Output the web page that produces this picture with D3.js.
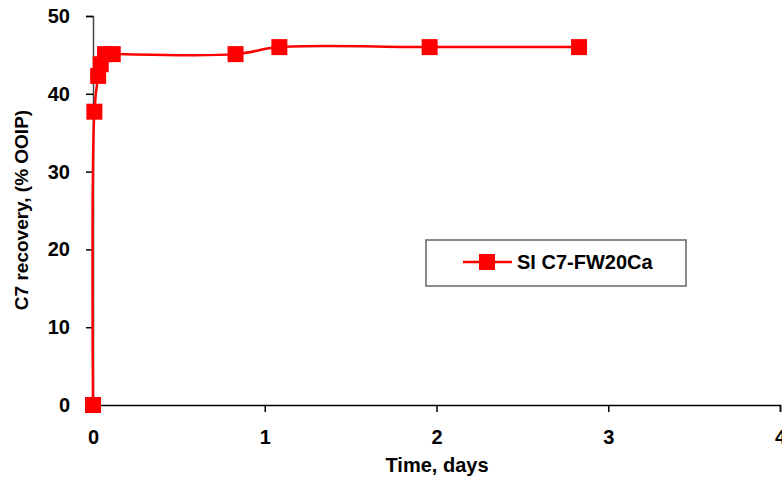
<!DOCTYPE html>
<html>
<head>
<meta charset="utf-8">
<script src="https://cdn.jsdelivr.net/npm/d3@7"></script>
<style>
  body { margin: 0; background: #fff; }
  svg text { font-family: "Liberation Sans", Arial, sans-serif; font-weight: bold; fill: #000; }
</style>
</head>
<body>
<svg id="chart" width="782" height="481"></svg>
<script>
  // values
  var timeDays = [0, 0.008, 0.03, 0.045, 0.07, 0.115, 0.83, 1.085, 1.96, 2.83];
  var recovery = [0, 37.7, 42.3, 43.8, 45.1, 45.1, 45.1, 46.0, 46.0, 46.0];
  var xTicks = [0, 1, 2, 3, 4];
  var yTicks = [0, 10, 20, 30, 40, 50];
  var seriesName = 'SI C7-FW20Ca';

  var svg = d3.select('#chart');
  var x = d3.scaleLinear().domain([0, 4]).range([93, 780]);
  var y = d3.scaleLinear().domain([0, 50]).range([405, 16]);

  var data = timeDays.map(function(t, i) { return { t: t, v: recovery[i] }; });

  // axes
  var xAxis = svg.append('g').attr('transform', 'translate(0,405)')
    .call(d3.axisBottom(x).tickValues(xTicks).tickSize(7).tickPadding(18).tickFormat(d3.format('d')));
  var yAxis = svg.append('g').attr('transform', 'translate(93,0)')
    .call(d3.axisLeft(y).tickValues(yTicks).tickSize(7).tickPadding(16).tickFormat(d3.format('d')));
  [xAxis, yAxis].forEach(function(a) {
    a.select('.domain').attr('stroke', '#000').attr('stroke-width', 1.5);
    a.selectAll('.tick line').attr('stroke', '#000').attr('stroke-width', 1.5);
    a.selectAll('.tick text').style('font-size', '20px').style('font-family', '"Liberation Sans", Arial, sans-serif').attr('fill', '#000');
  });
  yAxis.select('.domain').attr('stroke', '#444');

  // axis titles
  svg.append('text').attr('x', 437).attr('y', 472).attr('text-anchor', 'middle')
    .style('font-size', '20px').text('Time, days');
  svg.append('text').attr('transform', 'translate(28,210) rotate(-90)').attr('text-anchor', 'middle')
    .style('font-size', '19px').text('C7 recovery, (% OOIP)');

  // series
  var line = d3.line().x(function(d) { return x(d.t); }).y(function(d) { return y(d.v); })
    .curve(d3.curveCatmullRom.alpha(0.5));
  svg.append('path').datum(data).attr('d', line)
    .attr('fill', 'none').attr('stroke', '#ff0000').attr('stroke-width', 2.5);
  svg.selectAll('rect.pt').data(data).enter().append('rect').attr('class', 'pt')
    .attr('x', function(d) { return x(d.t) - 8; }).attr('y', function(d) { return y(d.v) - 8; })
    .attr('width', 16).attr('height', 16).attr('fill', '#ff0000');

  // legend
  var lg = svg.append('g').attr('transform', 'translate(426,240)');
  lg.append('rect').attr('width', 260).attr('height', 46)
    .attr('fill', '#fff').attr('stroke', '#666').attr('stroke-width', 1.5);
  lg.append('line').attr('x1', 37).attr('x2', 86).attr('y1', 22).attr('y2', 22)
    .attr('stroke', '#ff0000').attr('stroke-width', 2.5);
  lg.append('rect').attr('x', 53).attr('y', 14).attr('width', 16).attr('height', 16).attr('fill', '#ff0000');
  lg.append('text').attr('x', 91).attr('y', 29).style('font-size', '20px').text(seriesName);
</script>
</body>
</html>
